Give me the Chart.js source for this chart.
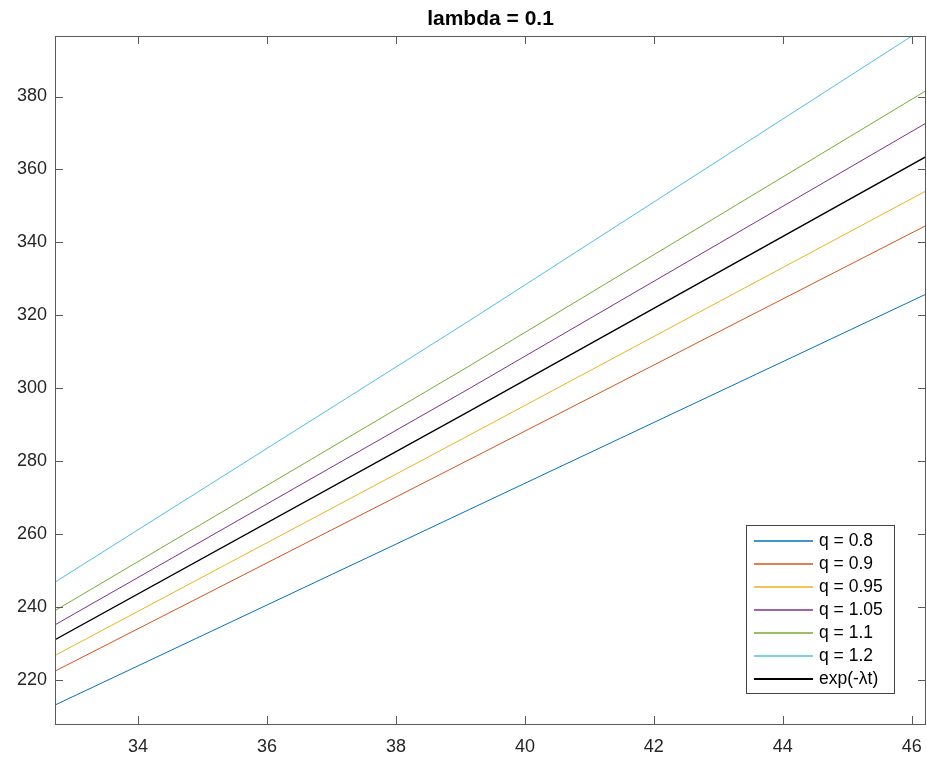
<!DOCTYPE html>
<html>
<head>
<meta charset="utf-8">
<script src="https://cdn.jsdelivr.net/npm/chart.js@4.4.1/dist/chart.umd.min.js"></script>
<style>
  html, body { margin:0; padding:0; background:#fff; }
  #wrap { width:927px; height:759px; }
</style>
</head>
<body>
<div id="wrap"><canvas id="c" width="927" height="759"></canvas></div>
<script>
const xs = [32.713, 39.147, 46.22];
const q08  = [213.1, 266.8, 325.8];
const q09  = [222.4, 280.5, 344.6];
const q095 = [226.7, 287.2, 354.1];
const q105 = [235.1, 300.0, 372.7];
const q11  = [239.0, 306.2, 381.6];
const q12  = [246.8, 318.6, 399.1];
const expLt = [231.0, 293.8, 363.5];
const labels = ["q = 0.8","q = 0.9","q = 0.95","q = 1.05","q = 1.1","q = 1.2","exp(-\u03bbt)"];
const series = [q08, q09, q095, q105, q11, q12, expLt];
const colors = ["#0072BD","#D95319","#EDB120","#7E2F8E","#77AC30","#4DBEEE","#000000"];
const xTicks = [34, 36, 38, 40, 42, 44, 46];
const yTicks = [220, 240, 260, 280, 300, 320, 340, 360, 380];

const FONT = '"Liberation Sans", Arial, Helvetica, sans-serif';
const AX = "#5a5a5a";

// box, inward ticks, tick labels, title and legend drawn MATLAB style
const matlabAxes = {
  id: "matlabAxes",
  afterDraw(chart) {
    const { ctx, chartArea: a, scales: { x, y } } = chart;
    ctx.save();
    ctx.strokeStyle = AX; ctx.lineWidth = 1;
    ctx.strokeRect(a.left + 0.5, a.top + 0.5, a.right - a.left - 1, a.bottom - a.top);
    const tl = 8;
    ctx.beginPath();
    xTicks.forEach(v => {
      const px = Math.round(x.getPixelForValue(v)) + 0.5;
      ctx.moveTo(px, a.bottom); ctx.lineTo(px, a.bottom - tl);
      ctx.moveTo(px, a.top); ctx.lineTo(px, a.top + tl);
    });
    yTicks.forEach(v => {
      const py = Math.round(y.getPixelForValue(v)) + 0.5;
      ctx.moveTo(a.left, py); ctx.lineTo(a.left + tl, py);
      ctx.moveTo(a.right, py); ctx.lineTo(a.right - tl, py);
    });
    ctx.stroke();

    ctx.fillStyle = "#262626";
    ctx.font = "18px " + FONT;
    ctx.textAlign = "center"; ctx.textBaseline = "middle";
    xTicks.forEach(v => ctx.fillText(String(v), x.getPixelForValue(v), a.bottom + 23));
    ctx.textAlign = "right";
    yTicks.forEach(v => ctx.fillText(String(v), a.left - 8, y.getPixelForValue(v)));

    ctx.fillStyle = "#000";
    ctx.font = "bold 21px " + FONT;
    ctx.textAlign = "center";
    ctx.fillText("lambda = 0.1", (a.left + a.right) / 2, 19);

    // legend
    const lx = 746, ly = 525, lw = 148, lh = 168;
    ctx.fillStyle = "#fff";
    ctx.fillRect(lx, ly, lw, lh);
    ctx.strokeStyle = "#444";
    ctx.lineWidth = 1;
    ctx.strokeRect(lx + 0.5, ly + 0.5, lw, lh);
    ctx.font = "17.5px " + FONT;
    ctx.textAlign = "left";
    chart.data.datasets.forEach((ds, i) => {
      const ry = ly + 16 + i * 23;
      ctx.strokeStyle = ds.borderColor;
      ctx.lineWidth = i === 6 ? 2 : 1.3;
      ctx.beginPath(); ctx.moveTo(lx + 8, ry); ctx.lineTo(lx + 67, ry); ctx.stroke();
      ctx.fillStyle = "#000";
      ctx.fillText(ds.label, lx + 73, ry);
    });
    ctx.restore();
  }
};

new Chart(document.getElementById("c"), {
  type: "line",
  data: {
    datasets: series.map((s, i) => ({
      label: labels[i],
      data: xs.map((xv, j) => ({ x: xv, y: s[j] })),
      borderColor: colors[i],
      borderWidth: i === 6 ? 1.3 : 1,
      pointRadius: 0,
      tension: 0
    }))
  },
  options: {
    responsive: false,
    animation: false,
    layout: { padding: { left: 55, right: 1, top: 36, bottom: 35 } },
    plugins: { legend: { display: false }, tooltip: { enabled: false } },
    scales: {
      x: { type: "linear", min: 32.713, max: 46.22, display: false },
      y: { type: "linear", min: 207.9, max: 396.6, display: false }
    }
  },
  plugins: [matlabAxes]
});
</script>
</body>
</html>
